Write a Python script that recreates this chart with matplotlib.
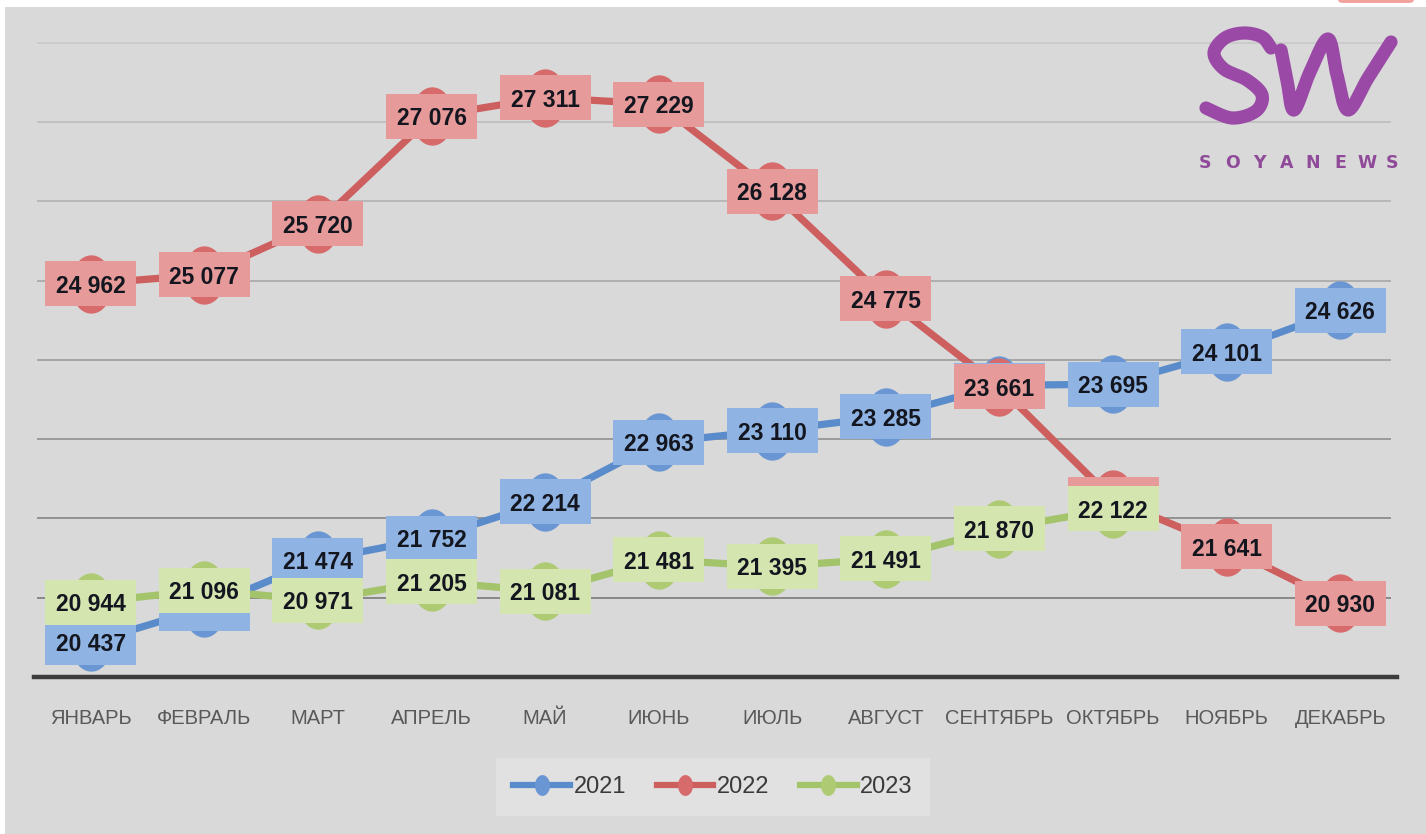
import numpy as np
import matplotlib
matplotlib.use("Agg")
import matplotlib.pyplot as plt
from matplotlib.path import Path
from matplotlib.lines import Line2D
from matplotlib.patches import Rectangle, FancyBboxPatch
from matplotlib.font_manager import FontProperties, fontManager
from matplotlib.transforms import ScaledTranslation

# ---- data -------------------------------------------------------------
months = ["ЯНВАРЬ", "ФЕВРАЛЬ", "МАРТ", "АПРЕЛЬ", "МАЙ", "ИЮНЬ",
          "ИЮЛЬ", "АВГУСТ", "СЕНТЯБРЬ", "ОКТЯБРЬ", "НОЯБРЬ", "ДЕКАБРЬ"]
years = ["2021", "2022", "2023"]
prices_2021 = [20437, 20870, 21474, 21752, 22214, 22963,
               23110, 23285, 23680, 23695, 24101, 24626]
prices_2022 = [24962, 25077, 25720, 27076, 27311, 27229,
               26128, 24775, 23661, 22240, 21641, 20930]
prices_2023 = [20944, 21096, 20971, 21205, 21081, 21481,
               21395, 21491, 21870, 22122]
# labels whose text sits completely under another series' label
covered_labels = {"2021": [1, 8], "2022": [9], "2023": []}
y_ticks = [20000, 21000, 22000, 23000, 24000, 25000, 26000, 27000, 28000]

# ---- fonts ------------------------------------------------------------
installed = {f.name for f in fontManager.ttflist}
if "Liberation Sans Narrow" in installed:
    FAMILY = ["Liberation Sans Narrow", "DejaVu Sans"]
    SZ_LABEL, SZ_MONTH, SZ_LEGEND = 18.5, 17.5, 19
else:
    FAMILY = ["Liberation Sans", "DejaVu Sans"]
    SZ_LABEL, SZ_MONTH, SZ_LEGEND = 16.5, 14.5, 17
plt.rcParams["font.family"] = FAMILY

line_colors = {"2021": "#5a8ccb", "2022": "#cd5f5f", "2023": "#a3c46a"}
marker_colors = {"2021": "#6a96d3", "2022": "#d76a6a", "2023": "#aecb74"}
box_colors = {"2021": "#8fb4e3", "2022": "#e69a99", "2023": "#d5e5b0"}
BG = "#d9d9d9"
W, H = 1426, 834
DPI = 100

# vertically stretched circle used as the point marker
theta = np.linspace(0, 2 * np.pi, 72)
ellipse = Path(np.c_[np.cos(theta) * 0.72, np.sin(theta)], closed=True)

fig = plt.figure(figsize=(W / DPI, H / DPI), dpi=DPI, facecolor="white")

# grey chart area with a thin white margin on the top and left
fig.patches.append(Rectangle((5 / W, 0), 1 - 5 / W, 1 - 7 / H,
                             transform=fig.transFigure, facecolor=BG,
                             edgecolor="none", zorder=-2))
fig.patches.append(FancyBboxPatch((1338 / W, 1 - 3 / H), 76 / W, 6 / H,
                                  boxstyle="round,pad=0,rounding_size=0.004",
                                  transform=fig.transFigure, facecolor="#f2a3a0",
                                  edgecolor="none", zorder=-1))

left_px, right_px, top_px, axis_px = 34, 1397, 43, 677
ax = fig.add_axes([left_px / W, 1 - axis_px / H,
                   (right_px - left_px) / W, (axis_px - top_px) / H])
ax.set_facecolor("none")
x = np.arange(len(months))
ax.set_xlim(-0.5, len(months) - 0.5)
ax.set_ylim(y_ticks[0], y_ticks[-1])

# horizontal gridlines, fading toward the top
grid_dark = np.array([0x88, 0x88, 0x88]) / 255
grid_light = np.array([0xcb, 0xcb, 0xcb]) / 255
for i, v in enumerate(y_ticks[1:]):
    f = i / (len(y_ticks) - 2)
    c = grid_dark * (1 - f) + grid_light * f
    ax.axhline(v, xmin=0.003, xmax=0.995, color=c, lw=1.4, zorder=1,
               clip_on=False)

for s in ["top", "right", "left"]:
    ax.spines[s].set_visible(False)
ax.spines["bottom"].set_color("#3c3c3c")
ax.spines["bottom"].set_linewidth(3.2)
ax.spines["bottom"].set_zorder(2)
ax.set_yticks([])
ax.set_xticks(x)
ax.set_xticklabels(months, fontsize=SZ_MONTH, color="#595959")
ax.tick_params(axis="x", length=0, pad=23)

series = {"2021": prices_2021, "2022": prices_2022, "2023": prices_2023}


def fmt(v):
    return f"{v:,}".replace(",", " ")


BOX_W, BOX_H = 91 / DPI, 45 / DPI  # label box size in inches

for k, yr in enumerate(years):
    vals = series[yr]
    xs = x[:len(vals)]
    ax.plot(xs, vals, color=line_colors[yr], lw=5.2, solid_capstyle="round",
            marker=ellipse, markersize=42, markerfacecolor=marker_colors[yr],
            markeredgecolor="none", zorder=3 + 0.1 * k, clip_on=False)
    for i, (xi, v) in enumerate(zip(xs, vals)):
        tr = fig.dpi_scale_trans + ScaledTranslation(xi, v, ax.transData)
        ax.add_patch(Rectangle((-BOX_W / 2, -BOX_H / 2), BOX_W, BOX_H,
                               transform=tr, facecolor=box_colors[yr],
                               edgecolor="none", zorder=10 + 2 * k,
                               clip_on=False))
        if i in covered_labels[yr]:
            continue
        ax.text(xi, v, fmt(v), ha="center", va="center_baseline",
                fontsize=SZ_LABEL, fontweight="bold", color="#14161f",
                zorder=11 + 2 * k, clip_on=False)

# legend
handles = [Line2D([], [], color=line_colors[yr], lw=4.5, marker=ellipse,
                  markersize=15, markerfacecolor=marker_colors[yr],
                  markeredgecolor="none") for yr in years]
leg = fig.legend(handles, years, loc="center", ncol=3,
                 bbox_to_anchor=(713 / W, 1 - 787 / H),
                 bbox_transform=fig.transFigure, frameon=True,
                 fancybox=False, facecolor="#e1e1e1", edgecolor="none",
                 framealpha=1, prop=FontProperties(family=FAMILY, size=SZ_LEGEND),
                 labelcolor="#3a3a3a", handlelength=2.4, handletextpad=0.15,
                 columnspacing=1.3, borderpad=0.75, borderaxespad=0)

# brand mark in the top-right corner
ov = fig.add_axes([0, 0, 1, 1], zorder=5)
ov.set_xlim(0, W)
ov.set_ylim(H, 0)
ov.axis("off")
ov.patch.set_alpha(0)


def smooth(pts, n=24):
    p = np.asarray(pts, float)
    p = np.vstack([p[0], p, p[-1]])
    out = []
    t = np.linspace(0, 1, n, endpoint=False)[:, None]
    for i in range(1, len(p) - 2):
        p0, p1, p2, p3 = p[i - 1], p[i], p[i + 1], p[i + 2]
        out.append(0.5 * (2 * p1 + (-p0 + p2) * t
                          + (2 * p0 - 5 * p1 + 4 * p2 - p3) * t ** 2
                          + (-p0 + 3 * p1 - 3 * p2 + p3) * t ** 3))
    out.append(p[-2][None])
    return np.vstack(out)


PURPLE = "#9a4aa6"
s_stroke = smooth([(1271, 48), (1262, 37), (1244, 33), (1225, 38), (1214, 53),
                   (1224, 69), (1247, 80), (1262, 95), (1256, 111),
                   (1232, 118), (1206, 108)])
w_stroke = smooth([(1281, 50), (1287, 80), (1294, 110), (1310, 72),
                   (1328, 39), (1337, 75), (1348, 110), (1368, 78),
                   (1391, 42)])
for st in (s_stroke, w_stroke):
    ov.plot(st[:, 0], st[:, 1], color=PURPLE, lw=9.5,
            solid_capstyle="round", solid_joinstyle="round")
for ch, xc in zip("SOYANEWS", [1205, 1232, 1259, 1287, 1313, 1340, 1367, 1392]):
    ov.text(xc, 163, ch, ha="center", va="center", fontsize=12.5,
            fontweight="bold", color="#8f4a99", family=["DejaVu Sans"])

fig.savefig("out.png", dpi=DPI, facecolor=fig.get_facecolor())
